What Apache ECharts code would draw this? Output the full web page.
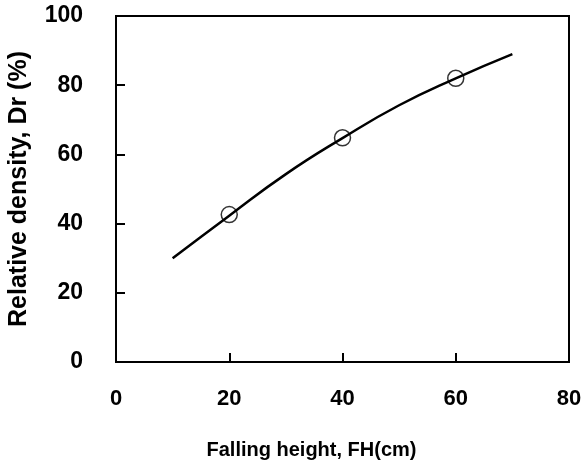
<!DOCTYPE html>
<html>
<head>
<meta charset="utf-8">
<script src="https://cdn.jsdelivr.net/npm/echarts@6/dist/echarts.min.js"></script>
<style>
  html, body { margin: 0; padding: 0; background: #fff; }
</style>
</head>
<body>
<div id="chart" style="width: 585px;height: 472px"></div>
<script>
// fitted curve
var curveX = [10, 20, 30, 40, 50, 60, 70]
var curveY = [30, 42.3, 54.3, 64.7, 74.2, 82, 89]
// measured points (open circles)
var pointX = [20, 40, 60]
var pointY = [42.6, 64.8, 82]

var font = "'Liberation Sans', Arial, sans-serif"

var myChart = echarts.init(document.getElementById('chart'))
var option = {
  animation: false,
  grid: {
    left: 116, right: 16, top: 16, bottom: 110,
    outerBoundsMode: 'none',
    show: true,
    borderColor: '#000',
    borderWidth: 2,
    backgroundColor: '#fff'
  },
  xAxis: {
    type: 'value',
    min: 0, max: 80, interval: 20,
    name: 'Falling height, FH(cm)',
    nameLocation: 'middle',
    nameGap: 78,
    // title sits left of the plot centre in the original
    nameTextStyle: { fontFamily: font, fontWeight: 'bold', fontSize: 20, color: '#000', padding: [0, 62, 0, 0] },
    axisLine: { show: true, lineStyle: { color: '#000', width: 2 } },
    axisTick: { show: true, inside: true, length: 9, lineStyle: { color: '#000', width: 2 } },
    axisLabel: { margin: 26, fontFamily: font, fontWeight: 'bold', fontSize: 22, color: '#000' },
    splitLine: { show: false }
  },
  yAxis: {
    type: 'value',
    min: 0, max: 100, interval: 20,
    name: 'Relative density, Dr (%)',
    nameLocation: 'middle',
    nameGap: 84,
    nameTextStyle: { fontFamily: font, fontWeight: 'bold', fontSize: 25, color: '#000' },
    axisLine: { show: true, lineStyle: { color: '#000', width: 2 } },
    axisTick: { show: true, inside: true, length: 9, lineStyle: { color: '#000', width: 2 } },
    axisLabel: { margin: 33, fontFamily: font, fontWeight: 'bold', fontSize: 23, color: '#000' },
    splitLine: { show: false }
  },
  series: [
    {
      type: 'line',
      smooth: true,
      showSymbol: false,
      data: curveX.map(function (x, i) { return [x, curveY[i]] }),
      lineStyle: { color: '#000', width: 2.5 }
    },
    {
      type: 'scatter',
      symbol: 'circle',
      symbolSize: 16,
      data: pointX.map(function (x, i) { return [x, pointY[i]] }),
      itemStyle: { color: 'rgba(0,0,0,0)', borderColor: '#000', borderWidth: 1.5 },
      z: 3
    }
  ]
}
myChart.setOption(option)
</script>
</body>
</html>
